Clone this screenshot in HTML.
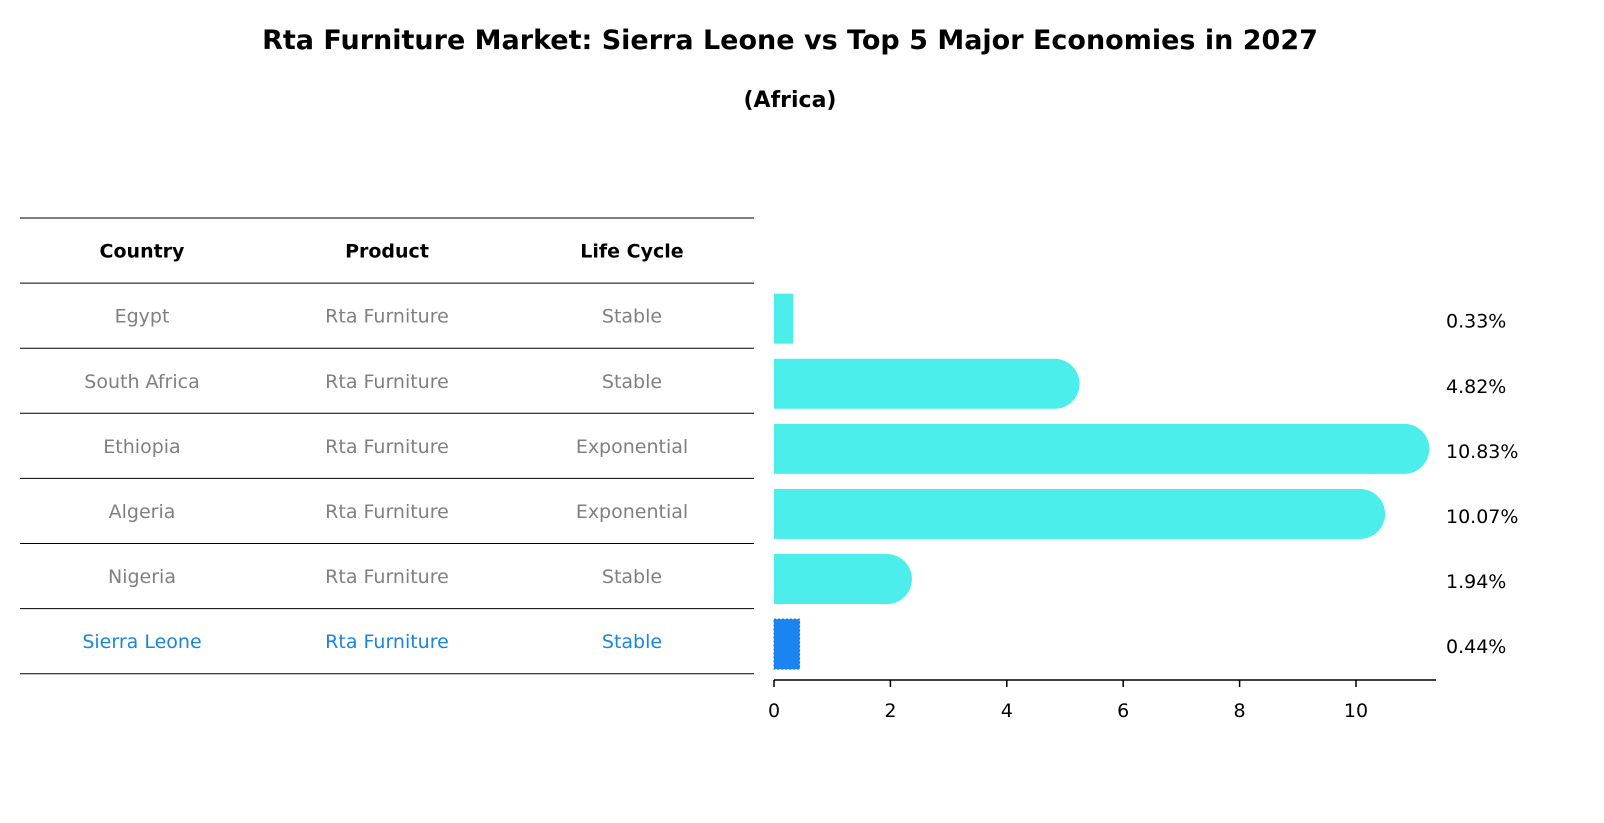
<!DOCTYPE html>
<html><head><meta charset="utf-8"><style>
html,body{margin:0;padding:0;background:#fff;overflow:hidden;width:1604px;height:823px;font-family:"Liberation Sans","DejaVu Sans",sans-serif}
svg{display:block}
</style></head><body>
<svg id="chart" width="1604" height="823" viewBox="0 0 1604 823" xmlns="http://www.w3.org/2000/svg" font-family="DejaVu Sans, Liberation Sans, sans-serif">
<text x="790" y="49" text-anchor="middle" font-size="27" font-weight="bold">Rta Furniture Market: Sierra Leone vs Top 5 Major Economies in 2027</text>
<text x="790" y="107" text-anchor="middle" font-size="22" font-weight="bold">(Africa)</text>
<g id="table"></g>
<g id="bars"></g>
</svg>
<script>
const countries=["Egypt","South Africa","Ethiopia","Algeria","Nigeria","Sierra Leone"];
const products=["Rta Furniture","Rta Furniture","Rta Furniture","Rta Furniture","Rta Furniture","Rta Furniture"];
const lifecycles=["Stable","Stable","Exponential","Exponential","Stable","Stable"];
const values=[0.33,4.82,10.83,10.07,1.94,0.44];
const tickVals=[0,2,4,6,8,10];
const NS="http://www.w3.org/2000/svg";
function mk(t,a,p){const e=document.createElementNS(NS,t);for(const k in a)e.setAttribute(k,a[k]);p.appendChild(e);return e;}
const tbl=document.getElementById('table'),bg=document.getElementById('bars');
const x0=774,sx=58.2;const X=v=>x0+v*sx;
const rowTop=218,rowH=65.1;
const cols=[142,387,632];
const hdr=["Country","Product","Life Cycle"];
hdr.forEach((h,i)=>{const t=mk('text',{x:cols[i],y:rowTop+rowH/2+7,'text-anchor':'middle','font-size':'19','font-weight':'bold'},tbl);t.textContent=h;

});
for(let i=0;i<=countries.length+1;i++){const l=mk('line',{x1:20,x2:754,y1:rowTop+i*rowH,y2:rowTop+i*rowH,stroke:'#000','stroke-width':1},tbl);

}
countries.forEach((c,i)=>{const last=i===countries.length-1;const col=last?'#1a85e0':'#808080';
const cy=rowTop+(i+1.5)*rowH+7;
[c,products[i],lifecycles[i]].forEach((s,j)=>{const t=mk('text',{x:cols[j],y:cy,'text-anchor':'middle','font-size':'19',fill:col},tbl);t.textContent=s;

});
});
const bh=50,r=25;
values.forEach((v,i)=>{const cy=rowTop+(i+1.5)*rowH+3;const last=i===values.length-1;
const col=last?'#1a85f0':'#4beeea';const xe=X(v);
let p;
if(xe-x0>2*r){p=mk('path',{d:`M${x0},${cy-bh/2}H${xe}A${r},${r} 0 0 1 ${xe},${cy+bh/2}H${x0}Z`,fill:col},bg);}
else{p=mk('rect',{x:x0,y:cy-bh/2,width:xe-x0,height:bh,fill:col},bg);if(last){p.setAttribute('stroke','#1a6fd0');p.setAttribute('stroke-dasharray','2 2');}}


const t=mk('text',{x:1446,y:cy+9,'font-size':'19'},bg);t.textContent=v.toFixed(2)+'%';


});
const ay=680;
const ax=mk('line',{x1:x0,x2:1436,y1:ay,y2:ay,stroke:'#000','stroke-width':1.5},bg);


tickVals.forEach(v=>{const tk=mk('line',{x1:X(v),x2:X(v),y1:ay,y2:ay+7,stroke:'#000','stroke-width':1.5},bg);


const t=mk('text',{x:X(v),y:ay+37,'text-anchor':'middle','font-size':'19'},bg);t.textContent=v;

});
</script>
</body></html>
